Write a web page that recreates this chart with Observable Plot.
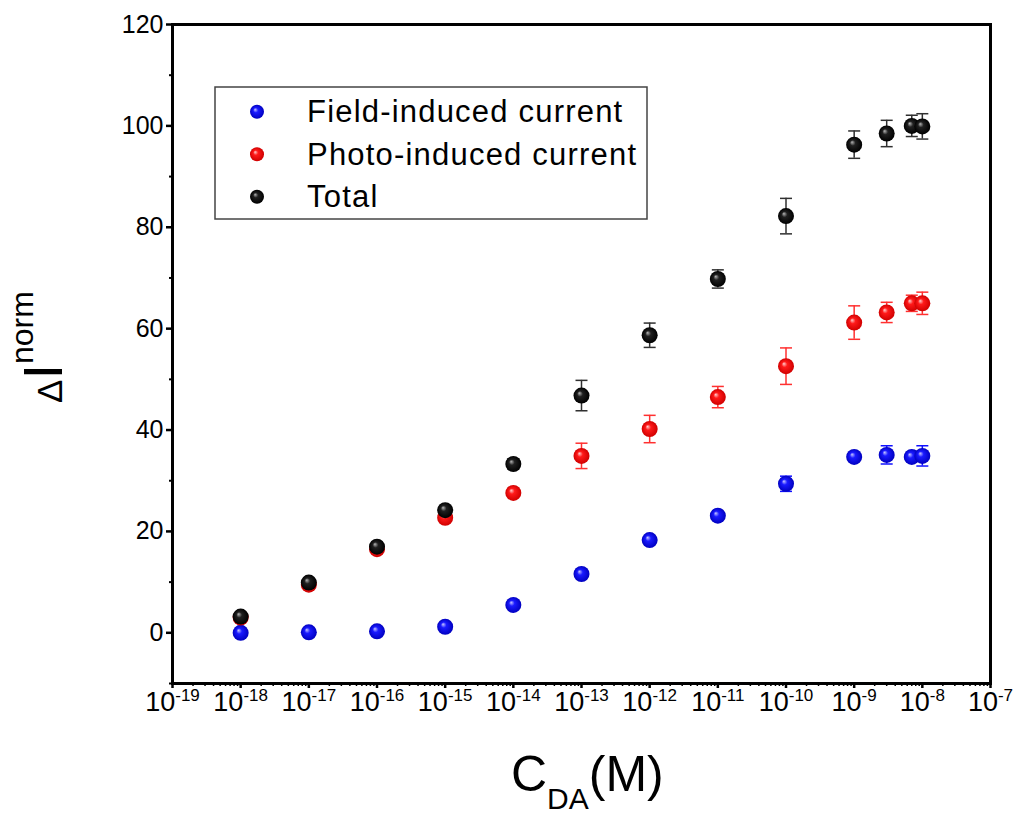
<!DOCTYPE html>
<html><head><meta charset="utf-8">
<script src="https://cdn.jsdelivr.net/npm/d3@7"></script>
<script src="https://cdn.jsdelivr.net/npm/@observablehq/plot@0.6"></script>
<style>html,body{margin:0;padding:0;background:#fff;overflow:hidden} svg{display:block}</style>
</head><body><div id="chart"></div>
<script>
// ---- data ----
const concentrations = [1e-18, 1e-17, 1e-16, 1e-15, 1e-14, 1e-13, 1e-12, 1e-11, 1e-10, 1e-9, 3e-9, 7e-9, 1e-8];
const fieldValues = [0.0, 0.1, 0.3, 1.2, 5.5, 11.6, 18.3, 23.1, 29.4, 34.7, 35.1, 34.7, 34.9];
const fieldErrors = [0.3, 0.3, 0.3, 0.3, 0.4, 0.5, 0.5, 0.5, 1.5, 0.6, 1.8, 0.8, 2.0];
const photoValues = [3.0, 9.5, 16.5, 22.7, 27.6, 34.9, 40.2, 46.5, 52.6, 61.2, 63.2, 65.0, 65.0];
const photoErrors = [0.4, 0.4, 0.5, 0.5, 0.6, 2.5, 2.7, 2.1, 3.6, 3.3, 2.0, 1.6, 2.2];
const totalValues = [3.2, 9.9, 17.0, 24.2, 33.3, 46.8, 58.7, 69.8, 82.2, 96.3, 98.5, 100.0, 99.9];
const totalErrors = [0.5, 0.5, 0.6, 0.6, 1.0, 3.0, 2.4, 1.8, 3.5, 2.7, 2.6, 2.1, 2.5];
const seriesNames = ["Field-induced current", "Photo-induced current", "Total"];
const seriesKeys = ["field", "photo", "total"];
const xTickExponents = [-19, -18, -17, -16, -15, -14, -13, -12, -11, -10, -9, -8, -7];
const yTickValues = [0, 20, 40, 60, 80, 100, 120];
const yMinorTicks = [-10, 10, 30, 50, 70, 90, 110];

// ---- styles ----
const font = "'Liberation Sans', Arial, sans-serif";
const palette = {
  field: {hi: "#c8c8ff", base: "#1a1aff", dark: "#0000c0", err: "#1010ff"},
  photo: {hi: "#ffd0d0", base: "#ff1a1a", dark: "#d00000", err: "#ff3030"},
  total: {hi: "#b8b8b8", base: "#202020", dark: "#000000", err: "#303030"}
};

const valuesBy = {field: fieldValues, photo: photoValues, total: totalValues};
const errorsBy = {field: fieldErrors, photo: photoErrors, total: totalErrors};
const rowsBy = {};
for (const k of seriesKeys) {
  rowsBy[k] = concentrations.map((c, i) => ({series: k, c, v: valuesBy[k][i], e: errorsBy[k][i]}));
}

const xMajor = xTickExponents.map(e => Math.pow(10, e));
const xMinor = [];
for (const e of xTickExponents.slice(0, -1)) for (let m = 2; m <= 9; m++) xMinor.push(m * Math.pow(10, e));

const capSymbol = {draw(context, size) { const w = Math.sqrt(size / Math.PI); context.moveTo(-w, 0); context.lineTo(w, 0); }};

const marks = [];
for (const k of seriesKeys) {
  const rows = rowsBy[k];
  const col = palette[k];
  marks.push(Plot.ruleX(rows, {x: "c", y1: d => d.v - d.e, y2: d => d.v + d.e, stroke: col.err, strokeWidth: 1.5}));
  marks.push(Plot.dot(rows, {x: "c", y: d => d.v + d.e, symbol: capSymbol, r: 6, fill: "none", stroke: col.err, strokeWidth: 1.5}));
  marks.push(Plot.dot(rows, {x: "c", y: d => d.v - d.e, symbol: capSymbol, r: 6, fill: "none", stroke: col.err, strokeWidth: 1.5}));
  marks.push(Plot.dot(rows, {x: "c", y: "v", r: 8, fill: `url(#grad-${k})`, stroke: "none"}));
}

const chart = Plot.plot({
  width: 1015,
  height: 813,
  marginLeft: 172,
  marginRight: 25,
  marginTop: 24,
  marginBottom: 130,
  style: {fontFamily: font, background: "#fff", color: "#000", overflow: "visible"},
  x: {type: "log", domain: [1e-19, 1e-7], label: null},
  y: {domain: [-10, 120], label: null},
  marks: [
    Plot.axisY(yMinorTicks, {tickSize: 3, tickFormat: () => "", strokeWidth: 2, label: null}),
    Plot.axisY(yTickValues, {tickSize: 6, tickPadding: 3, fontSize: 25, strokeWidth: 2.5, tickFormat: d => String(d), label: null}),
    Plot.axisX(xMinor, {tickSize: 3, tickFormat: () => "", strokeWidth: 1.5, label: null}),
    Plot.axisX(xMajor, {tickSize: 5, tickPadding: 3, fontSize: 27, strokeWidth: 2.5, tickFormat: d => String(Math.round(Math.log10(d))), label: null}),
    ...marks,
    Plot.frame({stroke: "#000", strokeWidth: 3})
  ]
});

const svg = d3.select(chart);
// gradients for the shaded spheres
const defs = svg.insert("defs", ":first-child");
for (const k of seriesKeys) {
  const g = defs.append("radialGradient").attr("id", `grad-${k}`)
    .attr("cx", 0.5).attr("cy", 0.5).attr("r", 0.5).attr("fx", 0.36).attr("fy", 0.34);
  g.append("stop").attr("offset", "0%").attr("stop-color", palette[k].hi);
  g.append("stop").attr("offset", "35%").attr("stop-color", palette[k].base);
  g.append("stop").attr("offset", "100%").attr("stop-color", palette[k].dark);
}

// x tick labels as 10^n with superscripts
svg.selectAll('g[aria-label="x-axis tick label"] text').each(function() {
  const t = this.textContent;
  if (!t) return;
  const sel = d3.select(this);
  sel.text("").attr("text-anchor", "middle");
  sel.append("tspan").text("10");
  sel.append("tspan").attr("font-size", 17).attr("dy", -10).text(t);
});

// axis titles
const ytitle = svg.append("text").attr("transform", "translate(62,403) rotate(-90)")
  .attr("text-anchor", "start").attr("font-family", font).attr("fill", "#000");
ytitle.append("tspan").attr("font-size", 35).text("Δ");
ytitle.append("tspan").attr("font-size", 56).text("I");
ytitle.append("tspan").attr("font-size", 32).attr("dy", -29).text("norm");

const xtitle = svg.append("text").attr("x", 511).attr("y", 791)
  .attr("text-anchor", "start").attr("font-family", font).attr("fill", "#000");
xtitle.append("tspan").attr("font-size", 50).text("C");
xtitle.append("tspan").attr("font-size", 30).attr("dy", 18).text("DA");
xtitle.append("tspan").attr("font-size", 50).attr("dy", -18).text("(M)");

// legend
const lg = svg.append("g");
lg.append("rect").attr("x", 215).attr("y", 87).attr("width", 432).attr("height", 132)
  .attr("fill", "#fff").attr("stroke", "#444").attr("stroke-width", 1.5);
seriesKeys.forEach((k, i) => {
  lg.append("circle").attr("cx", 257).attr("cy", 111.7 + i * 42.5).attr("r", 7).attr("fill", `url(#grad-${k})`);
  lg.append("text").attr("x", 307).attr("y", 121.7 + i * 42.8).attr("text-anchor", "start")
    .attr("font-family", font).attr("font-size", 31).attr("letter-spacing", 1.2).attr("fill", "#000")
    .text(seriesNames[i]);
});

document.getElementById("chart").appendChild(chart);
</script>
</body></html>
